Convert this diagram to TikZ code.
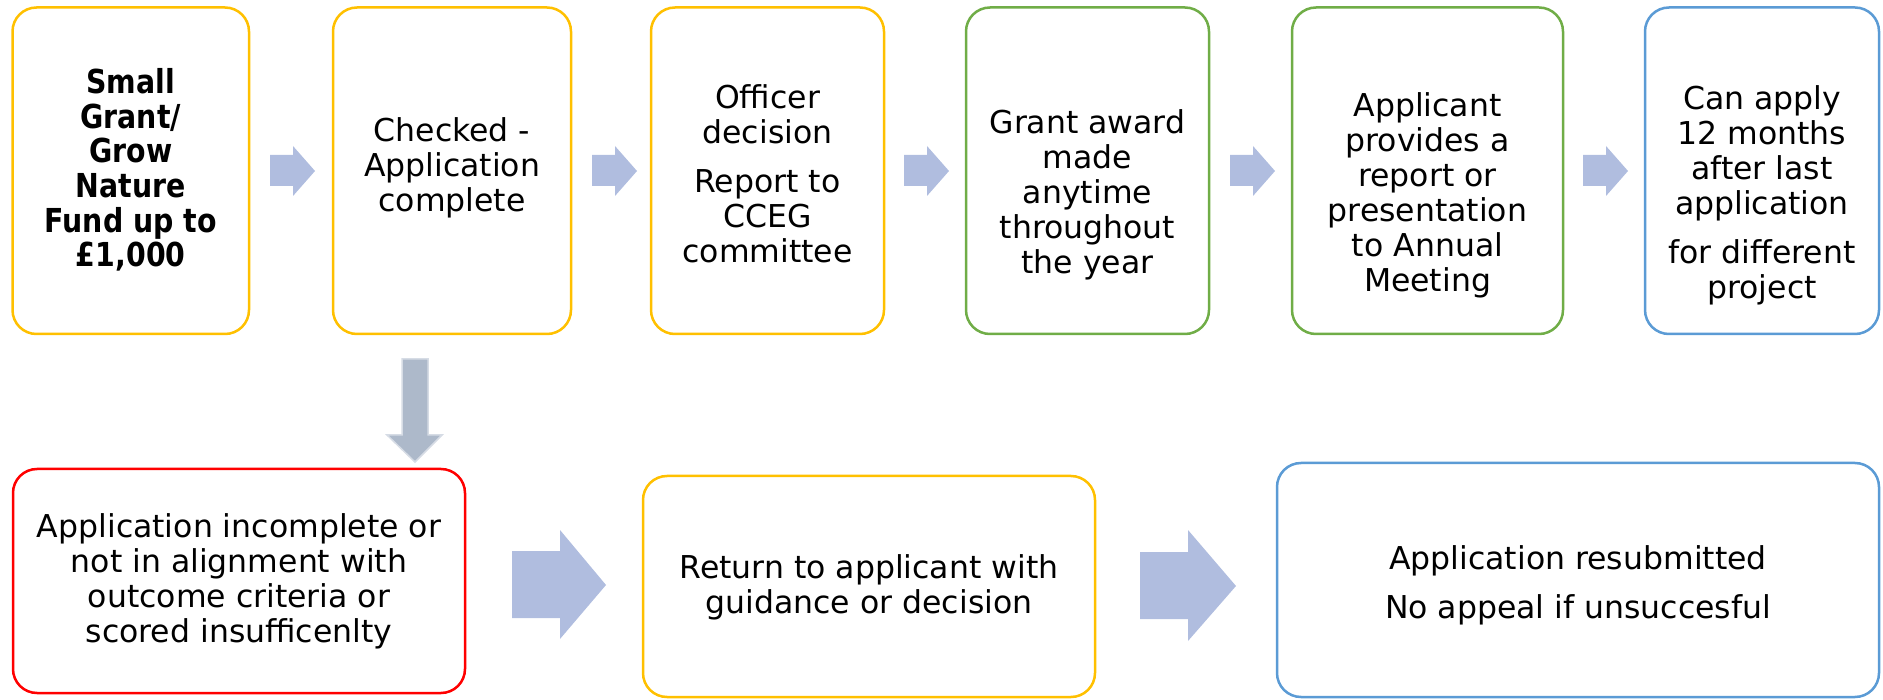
\documentclass[tikz,border=0pt]{standalone}
\usepackage{fontspec}
\setmainfont{DejaVu Sans}
\newfontfamily\bnarrow{DejaVu Sans}[FakeStretch=0.86]
\definecolor{cyel}{HTML}{FFC000}
\definecolor{cgrn}{HTML}{70AD47}
\definecolor{cblu}{HTML}{5B9BD5}
\definecolor{cred}{HTML}{FF0000}
\definecolor{carr}{RGB}{176,189,223}
\definecolor{cdown}{RGB}{173,185,202}
\definecolor{cdownl}{RGB}{214,220,229}
\begin{document}
\begin{tikzpicture}[x=1pt,y=-1pt,
  box/.style={rounded corners=24pt,line width=2.5pt,fill=white},
  txt/.style={align=center,font=\fontsize{31.5}{35}\selectfont,inner sep=0pt},
  arr/.style={fill=carr,draw=none}]
\useasboundingbox (0,0) rectangle (1883,700);
% top row boxes
\draw[box,draw=cyel] (12.5,7.5) rectangle (249,334);
\node (b1) at (130.75,170.75) {};
\draw[box,draw=cyel] (333,7.5) rectangle (571,334);
\node (b2) at (452,170.75) {};
\draw[box,draw=cyel] (651,7.5) rectangle (884,334);
\node (b3) at (767.5,170.75) {};
\draw[box,draw=cgrn] (966,7.5) rectangle (1209,334);
\node (b4) at (1087.5,170.75) {};
\draw[box,draw=cgrn] (1292,7.5) rectangle (1563,334);
\node (b5) at (1427.5,170.75) {};
\draw[box,draw=cblu] (1645,7.5) rectangle (1879,334);
\node (b6) at (1762,170.75) {};
% bottom row boxes
\draw[box,draw=cred] (13,469) rectangle (465,693);
\node (b7) at (239,581) {};
\draw[box,draw=cyel] (643,476) rectangle (1095,697);
\node (b8) at (869,586.5) {};
\draw[box,draw=cblu] (1277,463) rectangle (1879,697);
\node (b9) at (1578,580) {};
% texts
\node[txt,font=\fontsize{33}{34.6}\selectfont\bnarrow\bfseries] (t1) at (130.75,170) {Small\\Grant/\\Grow\\Nature\\Fund up to\\£1,000};
\node[txt] (t2) at (452,168) {Checked -\\Application\\complete};
\node[txt] (t3) at (767.5,174) {Officer\\decision\\[14pt]Report to\\CCEG\\committee};
\node[txt] (t4) at (1087.5,195) {Grant award\\made\\anytime\\throughout\\the year};
\node[txt] (t5) at (1427.5,195) {Applicant\\provides a\\report or\\presentation\\to Annual\\Meeting};
\node[txt] (t6) at (1762,195) {Can apply\\12 months\\after last\\application\\[14pt]for different\\project};
\node[txt] (t7) at (239,581) {Application incomplete or\\not in alignment with\\outcome criteria or\\scored insufficenlty};
\node[txt] (t8) at (869,587) {Return to applicant with\\guidance or decision};
\node[txt] (t9) at (1578,585) {Application resubmitted\\[14pt]No appeal if unsuccesful};
% small top arrows
\foreach \L in {270,592,904,1230,1583}{
  \fill[carr] (\L,155) -- ({\L+23},155) -- ({\L+23},146) -- ({\L+45},171) -- ({\L+23},196) -- ({\L+23},186) -- (\L,186) -- cycle;
}
% down arrow
\draw[fill=cdown,draw=cdownl,line width=1.5pt] (402,359) -- (428,359) -- (428,435) -- (442,435) -- (415,462) -- (387,435) -- (402,435) -- cycle;
% big bottom arrows
\fill[carr] (512,551) -- (560,551) -- (560,530) -- (606,585) -- (560,639) -- (560,618) -- (512,618) -- cycle;
\fill[carr] (1140,552) -- (1188,552) -- (1188,530) -- (1236,586) -- (1188,641) -- (1188,619) -- (1140,619) -- cycle;
\end{tikzpicture}
\end{document}
